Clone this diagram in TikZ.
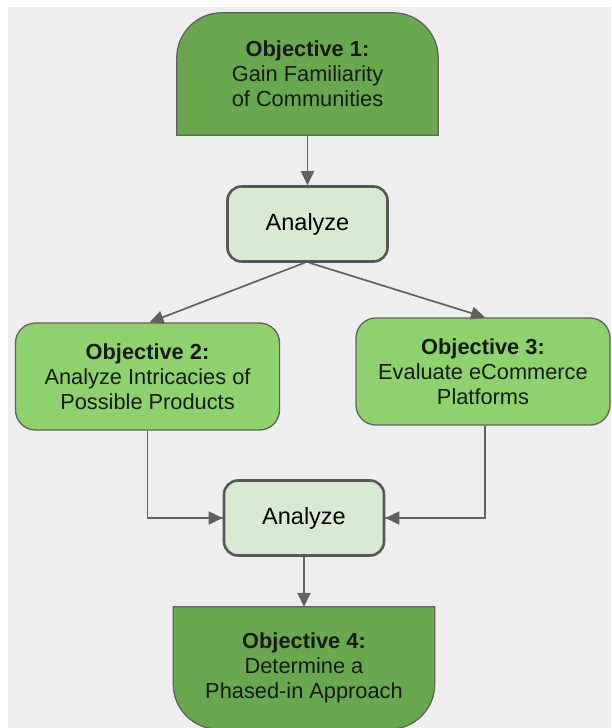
\documentclass[tikz,border=0pt]{standalone}
\usepackage{fontspec}
\setmainfont{Liberation Sans}
\usepackage{xcolor}
\usetikzlibrary{arrows.meta,positioning,backgrounds}

\definecolor{bggray}{HTML}{EEEEEE}
\definecolor{darkgrn}{HTML}{6AA84F}
\definecolor{midgrn}{HTML}{8FD26D}
\definecolor{palegrn}{HTML}{D9EAD3}
\definecolor{edgegray}{HTML}{616161}

\begin{document}
\begin{tikzpicture}[
  x=1pt, y=-1pt,
  font=\fontsize{21.8}{25}\selectfont,
  goal/.style={align=center, minimum width=261pt, minimum height=122pt,
               inner sep=0pt, text=black!90},
  obj/.style={draw=edgegray, line width=1.3pt, fill=midgrn, rounded corners=20pt,
              align=center, minimum height=107pt, inner sep=0pt, text=black!90},
  ana/.style={draw=edgegray!90!black, line width=2.6pt, fill=palegrn, rounded corners=14pt,
              minimum width=160pt, minimum height=75pt, inner sep=0pt,
              font=\fontsize{23.5}{27}\selectfont},
  arr/.style={draw=edgegray, line width=1.7pt, -{Triangle[length=14pt,width=13pt]}},
  line/.style={draw=edgegray, line width=1.7pt}
]
\useasboundingbox (0,0) rectangle (611,728);
\begin{scope}[on background layer]
  \fill[white] (0,0) rectangle (611,728);
  \fill[bggray] (8,7) rectangle (611,728);
\end{scope}

\node[goal] (obj1) at (307.5,74) {\textbf{Objective 1:}\\ Gain Familiarity\\ of Communities};
\node[ana, below=50pt of obj1] (ana1) {Analyze};
\node[obj, minimum width=264pt] (obj2) at (147.5,376.5)
  {\textbf{Objective 2:}\\ Analyze Intricacies of\\ Possible Products};
\node[obj, minimum width=254pt] (obj3) at (483,371.5)
  {\textbf{Objective 3:}\\ Evaluate eCommerce\\ Platforms};
\node[ana] (ana2) at (304,518) {Analyze};
\node[goal, below=50pt of ana2] (obj4) {\textbf{Objective 4:}\\ Determine a\\ Phased-in Approach};

% half-rounded goal boxes
\begin{scope}[on background layer]
  \filldraw[fill=darkgrn, draw=edgegray, line width=1.3pt]
    (obj1.south west) [rounded corners=45pt] -- (obj1.north west) -- (obj1.north east)
    [sharp corners] -- (obj1.south east) -- cycle;
  \filldraw[fill=darkgrn, draw=edgegray, line width=1.3pt]
    (obj4.north west) [rounded corners=45pt] -- (obj4.south west) -- (obj4.south east)
    [sharp corners] -- (obj4.north east) -- cycle;
\end{scope}

\draw[arr] (obj1) -- (ana1);
\draw[arr] ([xshift=-3pt]ana1.south) -- ([xshift=2pt]obj2.north);
\draw[arr] ([xshift=2pt]ana1.south) -- ([xshift=2pt]obj3.north);
\draw[line] (obj2.south) |- (ana2.west);
\draw[arr] (obj2.south |- ana2.west) -- (ana2.west);
\draw[line] ([xshift=2pt]obj3.south) |- (ana2.east);
\draw[arr] ([xshift=2pt]obj3.south |- ana2.east) -- (ana2.east);
\draw[arr] (ana2) -- (obj4);
\end{tikzpicture}
\end{document}
